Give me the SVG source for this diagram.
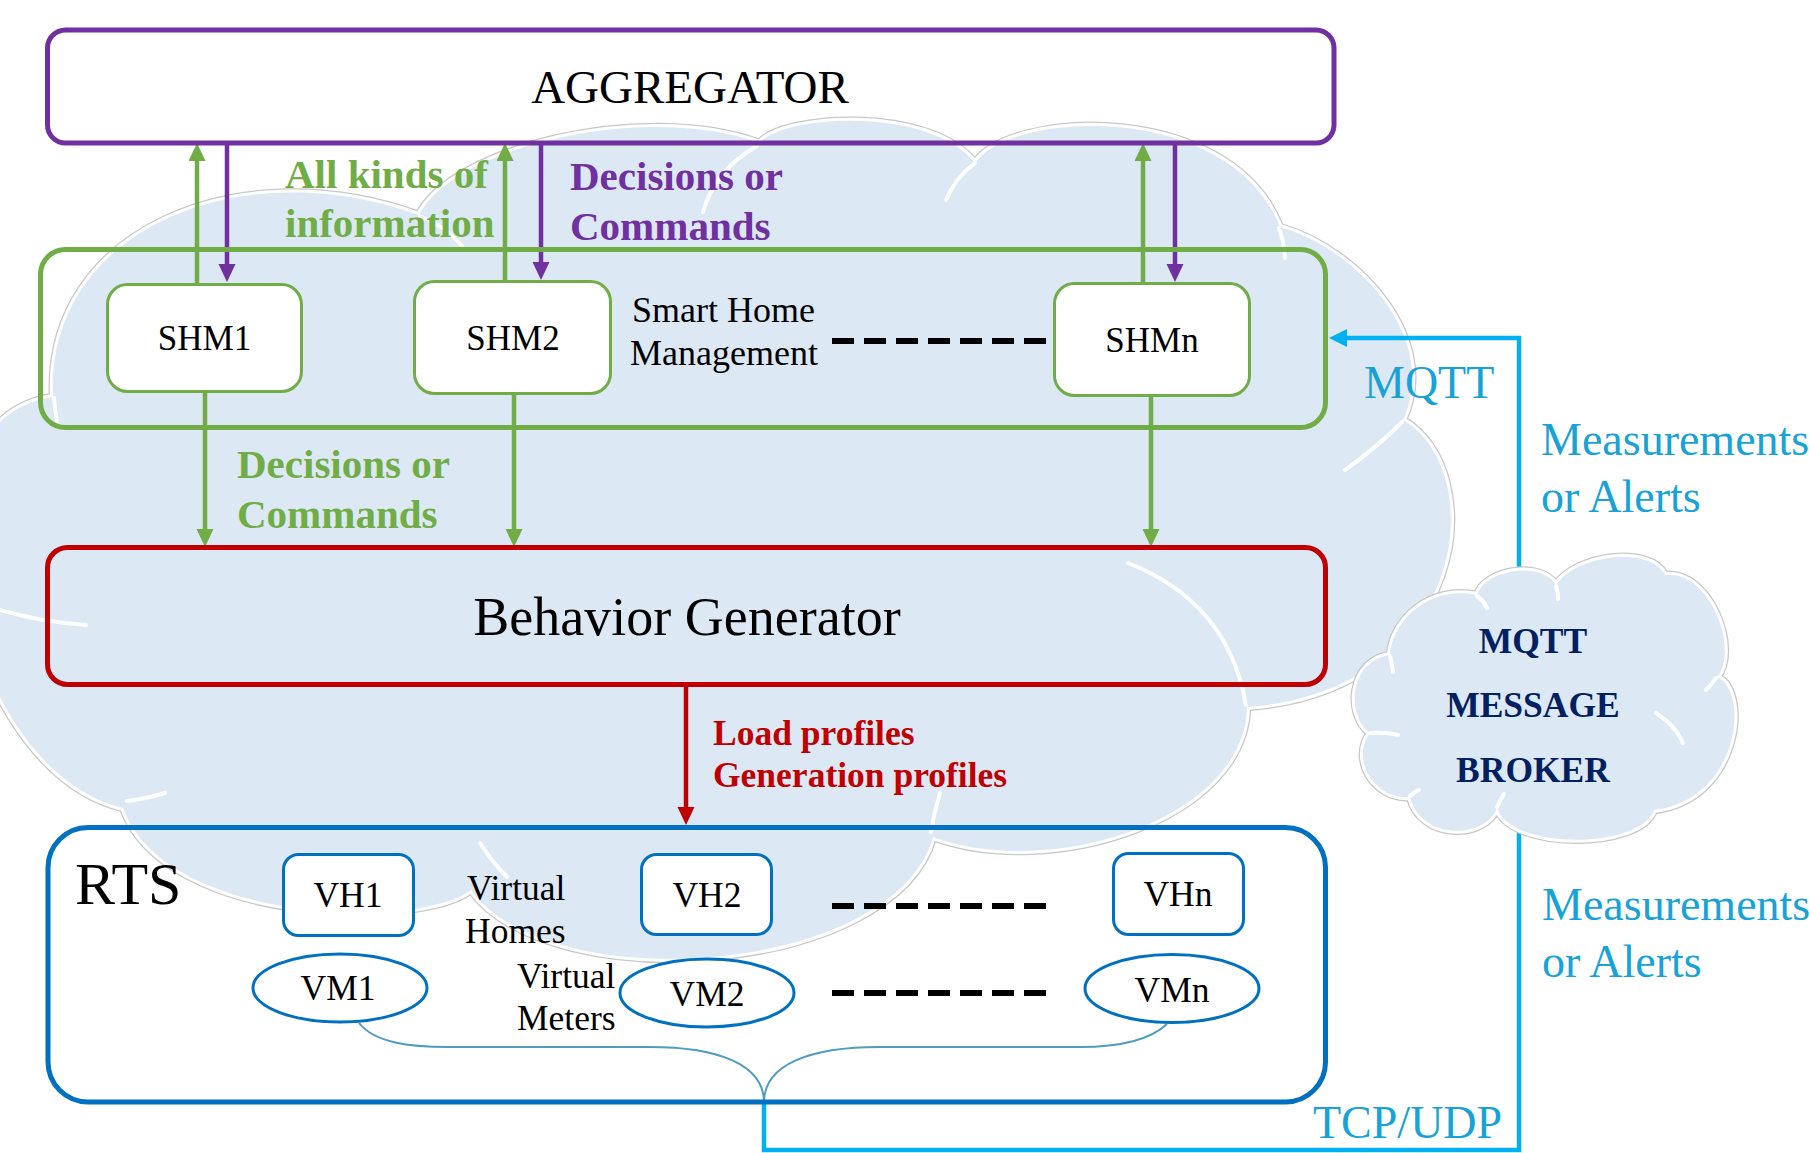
<svg xmlns="http://www.w3.org/2000/svg" width="1809" height="1153" viewBox="0 0 1809 1153">
<defs>
<style>
text{font-family:"Liberation Serif","Times New Roman",serif}
.box{fill:none}
.wbox{fill:#ffffff}
.t34{font-size:35.5px;fill:#000}
.t35{font-size:36px;fill:#000}
.shm{font-size:35px;fill:#000}
.bold{font-weight:bold}
.cy{fill:#17A2D8;font-size:46px}
.navy{fill:#002060;font-size:35.5px;font-weight:bold}
.cloudOut{fill:none;stroke:#C8C8C8;stroke-width:8.5;stroke-linejoin:round}
.cloudIn{fill:#DDE8F5;stroke:#ffffff;stroke-width:6;paint-order:stroke;stroke-linejoin:round}
.arc{fill:none;stroke:#ffffff;stroke-width:4;stroke-linecap:round}
.dash{stroke:#000;stroke-width:6;stroke-dasharray:22 10}
</style>
<marker id="mG" markerUnits="userSpaceOnUse" markerWidth="20" markerHeight="18" refX="8" refY="8.5" orient="auto"><path d="M0,0 L18,8.5 L0,17 z" fill="#70AD47"/></marker>
<marker id="mP" markerUnits="userSpaceOnUse" markerWidth="20" markerHeight="18" refX="8" refY="8.5" orient="auto"><path d="M0,0 L18,8.5 L0,17 z" fill="#7030A0"/></marker>
<marker id="mR" markerUnits="userSpaceOnUse" markerWidth="20" markerHeight="18" refX="8" refY="8.5" orient="auto"><path d="M0,0 L18,8.5 L0,17 z" fill="#C00000"/></marker>
<marker id="mC" markerUnits="userSpaceOnUse" markerWidth="20" markerHeight="20" refX="8" refY="9" orient="auto"><path d="M0,0 L18,9 L0,18 z" fill="#00B0F0"/></marker>
</defs>
<rect width="1809" height="1153" fill="#ffffff"/>

<g id="cloud-big">
<path class="cloudOut" d="M123,808 C-40,770 -110,420 53,397 C45,230 240,150 419,215 C450,150 640,100 760,143 C780,115 930,105 975,163 C1010,110 1230,100 1280,227 C1360,250 1440,340 1403,420 C1490,470 1470,690 1247,707 C1245,820 1050,880 933,837 C895,975 550,1000 471,890 C420,930 165,925 123,808 Z"/>
<path class="cloudIn" d="M123,808 C-40,770 -110,420 53,397 C45,230 240,150 419,215 C450,150 640,100 760,143 C780,115 930,105 975,163 C1010,110 1230,100 1280,227 C1360,250 1440,340 1403,420 C1490,470 1470,690 1247,707 C1245,820 1050,880 933,837 C895,975 550,1000 471,890 C420,930 165,925 123,808 Z"/>
<path class="arc" d="M946,200 Q955,178 975,163"/>
<path class="arc" d="M703,212 Q715,170 757,146"/>
<path class="arc" d="M420,216 Q445,226 462,246"/>
<path class="arc" d="M1279,228 Q1284,242 1285,258"/>
<path class="arc" d="M1345,470 Q1380,445 1402,422"/>
<path class="arc" d="M1128,563 Q1228,602 1246,705"/>
<path class="arc" d="M940,793 Q934,812 931,832"/>
<path class="arc" d="M480,843 Q492,862 507,877"/>
<path class="arc" d="M127,801 Q145,799 165,793"/>
<path class="arc" d="M0,610 Q40,622 86,625"/>
<path class="arc" d="M54,398 Q55,410 57,422"/>
</g>

<g id="connectors">
<line x1="197" y1="283" x2="197" y2="153" stroke="#70AD47" stroke-width="4.5" marker-end="url(#mG)"/>
<line x1="227" y1="143" x2="227" y2="272" stroke="#7030A0" stroke-width="4.5" marker-end="url(#mP)"/>
<line x1="505" y1="281" x2="505" y2="153" stroke="#70AD47" stroke-width="4.5" marker-end="url(#mG)"/>
<line x1="541" y1="143" x2="541" y2="270" stroke="#7030A0" stroke-width="4.5" marker-end="url(#mP)"/>
<line x1="1143" y1="283" x2="1143" y2="153" stroke="#70AD47" stroke-width="4.5" marker-end="url(#mG)"/>
<line x1="1175" y1="143" x2="1175" y2="272" stroke="#7030A0" stroke-width="4.5" marker-end="url(#mP)"/>
<line x1="205" y1="393" x2="205" y2="537" stroke="#70AD47" stroke-width="4.5" marker-end="url(#mG)"/>
<line x1="514" y1="395" x2="514" y2="537" stroke="#70AD47" stroke-width="4.5" marker-end="url(#mG)"/>
<line x1="1151" y1="397" x2="1151" y2="537" stroke="#70AD47" stroke-width="4.5" marker-end="url(#mG)"/>
<line x1="686" y1="685" x2="686" y2="815" stroke="#C00000" stroke-width="4.5" marker-end="url(#mR)"/>
<path d="M764,1100 V1150 H1519 V338 H1339" fill="none" stroke="#00B0F0" stroke-width="4.5" marker-end="url(#mC)"/>
<path d="M359,1023 C375,1043 410,1047 448,1047 L649,1047 C720,1047 762,1065 764,1100 C766,1065 808,1047 880,1047 L1080,1047 C1120,1047 1150,1040 1167,1024" fill="none" stroke="#4E9CC0" stroke-width="2"/>
<line class="dash" x1="832" y1="341" x2="1046" y2="341"/>
<line class="dash" x1="832" y1="906" x2="1046" y2="906"/>
<line class="dash" x1="832" y1="993" x2="1046" y2="993"/>
</g>

<g id="aggregator">
<rect class="box" x="47.5" y="30" width="1286.5" height="113" rx="18" stroke="#7030A0" stroke-width="5"/>
<text x="690" y="103" font-size="47" text-anchor="middle">AGGREGATOR</text>
</g>

<g id="shm-container">
<rect class="box" x="40.5" y="249.5" width="1285" height="178" rx="25" stroke="#70AD47" stroke-width="5"/>
<text class="t35" x="632" y="322">Smart Home</text>
<text class="t35" x="630" y="365">Management</text>
</g>

<g id="shm1">
<rect class="wbox" x="107.5" y="284.5" width="194" height="107" rx="20" stroke="#70AD47" stroke-width="3"/>
<text class="shm" x="204.5" y="350" text-anchor="middle">SHM1</text>
</g>
<g id="shm2">
<rect class="wbox" x="414.5" y="281.5" width="196" height="112" rx="20" stroke="#70AD47" stroke-width="3"/>
<text class="shm" x="513" y="350" text-anchor="middle">SHM2</text>
</g>
<g id="shmn">
<rect class="wbox" x="1054.5" y="283.5" width="195" height="112" rx="20" stroke="#70AD47" stroke-width="3"/>
<text class="shm" x="1152" y="352" text-anchor="middle">SHMn</text>
</g>

<g id="label-info">
<text class="bold" x="285" y="188" font-size="41" fill="#70AD47">All kinds of</text>
<text class="bold" x="285" y="237" font-size="41" fill="#70AD47">information</text>
</g>
<g id="label-decisions-purple">
<text class="bold" x="570" y="190" font-size="41" fill="#7030A0">Decisions or</text>
<text class="bold" x="570" y="240" font-size="41" fill="#7030A0">Commands</text>
</g>
<g id="label-decisions-green">
<text class="bold" x="237" y="478" font-size="41" fill="#70AD47">Decisions or</text>
<text class="bold" x="237" y="528" font-size="41" fill="#70AD47">Commands</text>
</g>

<g id="behavior-generator">
<rect class="box" x="47.5" y="547.5" width="1278" height="137" rx="20" stroke="#C00000" stroke-width="5"/>
<text x="687" y="635" font-size="54" text-anchor="middle">Behavior Generator</text>
</g>

<g id="label-profiles">
<text class="bold" x="713" y="745" font-size="35.5" fill="#C00000">Load profiles</text>
<text class="bold" x="713" y="787" font-size="35.5" fill="#C00000">Generation profiles</text>
</g>

<g id="rts">
<rect class="box" x="48" y="827.5" width="1277.5" height="274.5" rx="40" stroke="#0070C0" stroke-width="5"/>
<text x="75" y="904" font-size="60">RTS</text>
<text class="t34" x="467" y="900">Virtual</text>
<text class="t34" x="465" y="943">Homes</text>
<text class="t34" x="517" y="988">Virtual</text>
<text class="t34" x="517" y="1030">Meters</text>
</g>

<g id="vh1">
<rect class="wbox" x="283.5" y="854.5" width="130" height="81" rx="15" stroke="#0070C0" stroke-width="3"/>
<text class="t34" x="348" y="907" text-anchor="middle">VH1</text>
</g>
<g id="vh2">
<rect class="wbox" x="641.5" y="854.5" width="130" height="80" rx="15" stroke="#0070C0" stroke-width="3"/>
<text class="t34" x="707" y="907" text-anchor="middle">VH2</text>
</g>
<g id="vhn">
<rect class="wbox" x="1113.5" y="853.5" width="130" height="81" rx="15" stroke="#0070C0" stroke-width="3"/>
<text class="t34" x="1178" y="906" text-anchor="middle">VHn</text>
</g>
<g id="vm1">
<ellipse class="wbox" cx="340" cy="988" rx="87" ry="34" stroke="#0070C0" stroke-width="3"/>
<text class="t34" x="338" y="1000" text-anchor="middle">VM1</text>
</g>
<g id="vm2">
<ellipse class="wbox" cx="707" cy="993" rx="87" ry="34" stroke="#0070C0" stroke-width="3"/>
<text class="t34" x="707" y="1006" text-anchor="middle">VM2</text>
</g>
<g id="vmn">
<ellipse class="wbox" cx="1172" cy="988.5" rx="87" ry="34" stroke="#0070C0" stroke-width="3"/>
<text class="t34" x="1172" y="1002" text-anchor="middle">VMn</text>
</g>

<g id="mqtt-broker">
<path class="cloudOut" d="M1390,655 C1392,620 1430,585 1477,595 C1485,570 1540,560 1556,585 C1575,555 1650,545 1665,575 C1710,570 1740,650 1717,677 C1750,690 1740,800 1654,810 C1640,850 1510,850 1497,808 C1485,840 1420,840 1410,797 C1375,800 1350,760 1370,733 C1345,715 1350,660 1390,655 Z"/>
<path class="cloudIn" d="M1390,655 C1392,620 1430,585 1477,595 C1485,570 1540,560 1556,585 C1575,555 1650,545 1665,575 C1710,570 1740,650 1717,677 C1750,690 1740,800 1654,810 C1640,850 1510,850 1497,808 C1485,840 1420,840 1410,797 C1375,800 1350,760 1370,733 C1345,715 1350,660 1390,655 Z"/>
<path class="arc" d="M1477,596 Q1483,600 1487,608"/>
<path class="arc" d="M1556,586 Q1558,592 1558,599"/>
<path class="arc" d="M1716,678 Q1712,684 1706,690"/>
<path class="arc" d="M1656,713 Q1675,725 1683,743"/>
<path class="arc" d="M1497,807 Q1500,800 1504,794"/>
<path class="arc" d="M1410,796 Q1414,792 1419,790"/>
<path class="arc" d="M1371,733 Q1386,732 1398,735"/>
<path class="arc" d="M1390,656 Q1392,664 1393,672"/>
<text class="navy" x="1533" y="653" text-anchor="middle">MQTT</text>
<text class="navy" x="1533" y="717" text-anchor="middle">MESSAGE</text>
<text class="navy" x="1533" y="782" text-anchor="middle">BROKER</text>
</g>

<g id="labels-protocol">
<text class="cy" x="1364" y="398">MQTT</text>
<text class="cy" x="1541" y="455">Measurements</text>
<text class="cy" x="1541" y="512">or Alerts</text>
<text class="cy" x="1542" y="920">Measurements</text>
<text class="cy" x="1542" y="977">or Alerts</text>
<text class="cy" x="1313" y="1138">TCP/UDP</text>
</g>
</svg>
